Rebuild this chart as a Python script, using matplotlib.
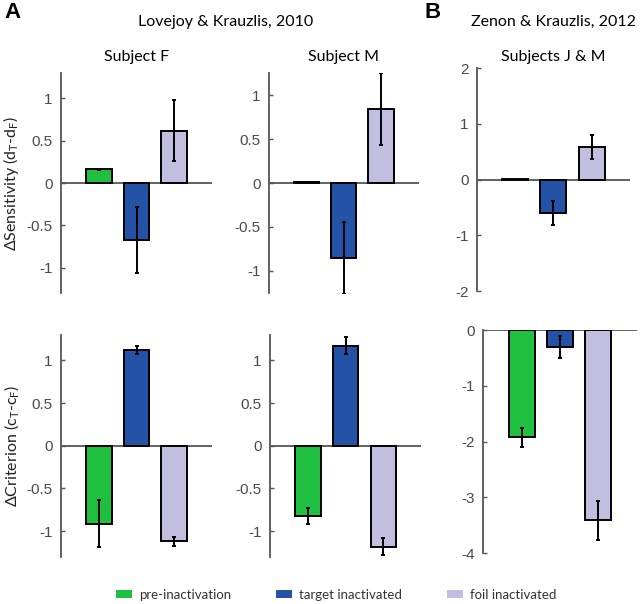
import numpy as np
import matplotlib
matplotlib.use('Agg')
import matplotlib.pyplot as plt
from matplotlib.patches import Patch

plt.rcParams['font.family'] = ['Liberation Sans', 'DejaVu Sans']
plt.rcParams['mathtext.fontset'] = 'custom'
plt.rcParams['mathtext.rm'] = 'Lato'
plt.rcParams['mathtext.it'] = 'Lato'

TEXTFONT = ['Lato', 'DejaVu Sans']

conditions = ['pre-inactivation', 'target inactivated', 'foil inactivated']
colors = ['#1fbf3f', '#2452a6', '#c2bee0']

# sensitivity (d_T - d_F)
sens_F = [0.16, -0.67, 0.62]
sens_F_err = [0.01, 0.39, 0.36]
sens_M = [0.01, -0.85, 0.84]
sens_M_err = [0.0, 0.41, 0.41]
sens_JM = [0.01, -0.60, 0.59]
sens_JM_err = [0.0, 0.21, 0.21]

# criterion (c_T - c_F)
crit_F = [-0.91, 1.12, -1.12]
crit_F_err = [0.27, 0.05, 0.05]
crit_M = [-0.82, 1.17, -1.18]
crit_M_err = [0.095, 0.10, 0.10]
crit_JM = [-1.92, -0.30, -3.41]
crit_JM_err = [0.17, 0.20, 0.35]

GRAY = '#555555'

fig = plt.figure(figsize=(6.4, 6.04), dpi=100)


def panel(rect, vals, errs, ylim, yticks, yticklabels):
    ax = fig.add_axes(rect)
    x = np.arange(1, len(vals) + 1)
    ax.axhline(0, color=GRAY, lw=1.3, zorder=1)
    ax.bar(x, vals, width=0.68, color=colors, edgecolor='black',
           linewidth=1.4, zorder=2)
    ax.errorbar(x, vals, yerr=errs, fmt='none', ecolor='black',
                elinewidth=1.4, capsize=1.5, capthick=1.4, zorder=3)
    ax.set_xlim(0, 4)
    ax.set_ylim(*ylim)
    ax.set_yticks(yticks)
    ax.set_yticklabels(yticklabels)
    ax.set_xticks([])
    for s in ['top', 'right', 'bottom']:
        ax.spines[s].set_visible(False)
    ax.spines['left'].set_color(GRAY)
    ax.spines['left'].set_linewidth(1.3)
    ax.tick_params(axis='y', direction='in', length=3, width=1,
                   color=GRAY, labelcolor='#4a4a4a', labelsize=11, pad=6)
    ax.patch.set_alpha(0)
    return ax


t1 = [-1, -0.5, 0, 0.5, 1]
t1l = ['-1', '-0.5', '0', '0.5', '1']

axF = panel([0.0953, 0.515, 0.236, 0.364], sens_F, sens_F_err,
            (-1.3, 1.3), t1, t1l)
axM = panel([0.420, 0.515, 0.234, 0.364], sens_M, sens_M_err,
            (-1.25, 1.25), t1, t1l)
axJM = panel([0.745, 0.518, 0.239, 0.369], sens_JM, sens_JM_err,
             (-2, 2), [-2, -1, 0, 1, 2], ['-2', '-1', '0', '1', '2'])

axF2 = panel([0.0953, 0.078, 0.236, 0.368], crit_F, crit_F_err,
             (-1.3, 1.3), t1, t1l)
axM2 = panel([0.422, 0.078, 0.236, 0.368], crit_M, crit_M_err,
             (-1.3, 1.3), t1, t1l)
axJM2 = panel([0.755, 0.0844, 0.240, 0.369], crit_JM, crit_JM_err,
              (-4, 0), [-4, -3, -2, -1, 0], ['-4', '-3', '-2', '-1', '0'])

axF.set_ylabel(r'ΔSensitivity (d$_\mathrm{T}$-d$_\mathrm{F}$)',
               fontsize=11.5, family=TEXTFONT, color='#222222', labelpad=4)
axF2.set_ylabel(r'ΔCriterion (c$_\mathrm{T}$-c$_\mathrm{F}$)',
                fontsize=11.5, family=TEXTFONT, color='#222222', labelpad=4)

axF.set_title('Subject F', fontsize=11.5, family=TEXTFONT, pad=9)
axM.set_title('Subject M', fontsize=11.5, family=TEXTFONT, pad=9)
axJM.set_title('Subjects J & M', fontsize=11.5, family=TEXTFONT, pad=5)

fig.text(226 / 640, 1 - 22 / 604, 'Lovejoy & Krauzlis, 2010', fontsize=11.5,
         family=TEXTFONT, ha='center', va='center')
fig.text(636 / 640, 1 - 22 / 604, 'Zenon & Krauzlis, 2012', fontsize=11.5,
         family=TEXTFONT, ha='right', va='center')
fig.text(4 / 640, 1 - 12 / 604, 'A', fontsize=16, fontweight='bold',
         ha='left', va='center')
fig.text(424 / 640, 1 - 12 / 604, 'B', fontsize=16, fontweight='bold',
         ha='left', va='center')

handles = [Patch(facecolor=c, edgecolor='none') for c in colors]
fig.legend(handles, conditions, loc='center', bbox_to_anchor=(336 / 640, 1 - 595 / 604),
           ncol=3, frameon=False, handlelength=1.2, handleheight=0.53,
           columnspacing=3.4, handletextpad=0.55,
           prop={'family': TEXTFONT, 'size': 9.5}, labelcolor='#333333')

fig.savefig('out.png', dpi=100)
